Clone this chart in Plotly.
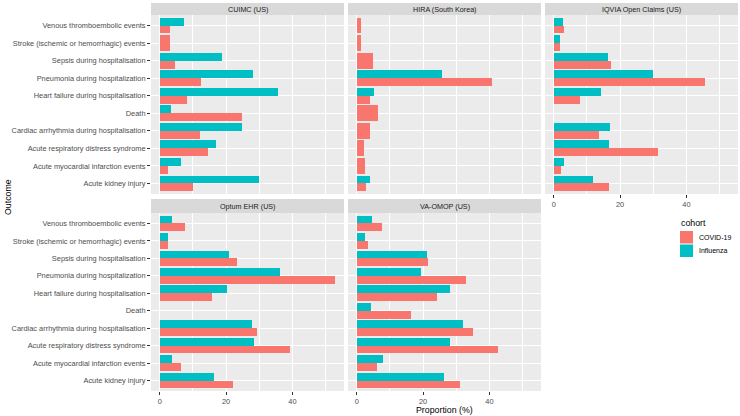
import plotly.graph_objects as go

W, H = 740, 416

categories = [
    "Acute kidney injury",
    "Acute myocardial infarction events",
    "Acute respiratory distress syndrome",
    "Cardiac arrhythmia during hospitalisation",
    "Death",
    "Heart failure during hospitalisation",
    "Pneumonia during hospitalization",
    "Sepsis during hospitalisation",
    "Stroke (ischemic or hemorrhagic) events",
    "Venous thromboembolic events",
]

panels = ["CUIMC (US)", "HIRA (South Korea)", "IQVIA Open Claims (US)", "Optum EHR (US)", "VA-OMOP (US)"]

cuimc_covid = [10.0, 2.4, 14.6, 12.2, 24.7, 8.3, 12.4, 4.7, 3.1, 3.1]
cuimc_flu = [29.9, 6.3, 17.0, 24.7, 3.4, 35.6, 28.1, 18.9, None, 7.3]
hira_covid = [2.8, 2.6, 2.1, 4.0, 6.4, 4.0, 40.8, 4.9, 1.3, 1.3]
hira_flu = [4.0, None, None, None, None, 5.2, 25.6, None, None, None]
iqvia_covid = [16.6, 2.3, 31.4, 13.5, None, 7.9, 45.5, 17.2, 1.9, 3.2]
iqvia_flu = [11.7, 3.2, 16.8, 17.0, None, 14.1, 29.9, 16.3, 1.9, 2.8]
optum_covid = [22.0, 6.3, 39.4, 29.3, None, 15.6, 52.9, 23.3, 2.4, 7.5]
optum_flu = [16.2, 3.8, 28.4, 27.9, None, 20.2, 36.2, 20.8, 2.4, 3.8]
va_covid = [31.1, 6.0, 42.6, 35.1, 16.3, 24.3, 32.8, 21.5, 3.4, 7.7]
va_flu = [26.2, 7.8, 28.2, 32.0, 4.2, 28.2, 19.5, 21.3, 2.4, 4.6]

x_ticks = [0, 20, 40]
cohorts = ["COVID-19", "Influenza"]
colors = {"COVID-19": "#F8766D", "Influenza": "#00BFC4"}

panel_data = [
    (cuimc_covid, cuimc_flu),
    (hira_covid, hira_flu),
    (iqvia_covid, iqvia_flu),
    (optum_covid, optum_flu),
    (va_covid, va_flu),
]

# pixel geometry of panels in screen coords (y from top)
cols_px = [(151, 344), (348, 541), (545, 738)]
rows_px = [(15, 194), (213, 391)]
strip_px = [(3, 15), (199, 213)]
pos = [(0, 0), (0, 1), (0, 2), (1, 0), (1, 1)]

allvals = [v for pair in panel_data for s in pair for v in s if v is not None]
vmax = max(allvals)
xr = [-0.05 * vmax, 1.05 * vmax]

FONT = "Liberation Sans, Arial, sans-serif"
TICK = 7.4
fig = go.Figure()
shapes = []
annotations = []
layout = {}

for i, (name, (cv, fl)) in enumerate(zip(panels, panel_data)):
    r, c = pos[i]
    idx = "" if i == 0 else str(i + 1)
    xa, ya = "x" + idx, "y" + idx
    for cohort, vals, other in (("COVID-19", cv, fl), ("Influenza", fl, cv)):
        ys, xs, offs, wids = [], [], [], []
        for cat, v, o in zip(categories, vals, other):
            if v is None:
                continue
            ys.append(cat)
            xs.append(v)
            if o is None:
                offs.append(-0.45); wids.append(0.9)
            else:
                offs.append(-0.45 if cohort == "COVID-19" else 0.0); wids.append(0.45)
        fig.add_trace(go.Bar(
            x=xs, y=ys, orientation="h", offset=offs, width=wids,
            marker=dict(color=colors[cohort], line=dict(width=0)),
            name=cohort, showlegend=False, xaxis=xa, yaxis=ya,
        ))
    x0, x1 = cols_px[c]
    y0, y1 = rows_px[r]
    show_x = (r == 1) or (c == 2)
    show_y = (c == 0)
    layout["xaxis" + idx] = dict(
        domain=[x0 / W, x1 / W], anchor=ya, range=xr,
        tickvals=x_ticks, showticklabels=show_x,
        ticks="outside" if show_x else "", ticklen=3, tickcolor="#333333",
        tickfont=dict(size=TICK, color="#4D4D4D", family=FONT),
        showgrid=True, gridcolor="white", gridwidth=1.1, zeroline=False,
        minor=dict(dtick=10, tick0=0, showgrid=True, gridcolor="white", gridwidth=0.5),
        showline=False, fixedrange=True,
    )
    layout["yaxis" + idx] = dict(
        domain=[1 - y1 / H, 1 - y0 / H], anchor=xa, type="category",
        categoryorder="array", categoryarray=categories, range=[-0.6, 9.6],
        showticklabels=show_y, ticks="outside" if show_y else "", ticklen=3,
        tickcolor="#333333", tickfont=dict(size=TICK, color="#4D4D4D", family=FONT),
        showgrid=True, gridcolor="white", gridwidth=1.1, zeroline=False,
        showline=False, fixedrange=True,
    )
    shapes.append(dict(type="rect", xref="paper", yref="paper",
                       x0=x0 / W, x1=x1 / W, y0=1 - y1 / H, y1=1 - y0 / H,
                       fillcolor="#EBEBEB", line=dict(width=0), layer="below"))
    s0, s1 = strip_px[r]
    shapes.append(dict(type="rect", xref="paper", yref="paper",
                       x0=x0 / W, x1=x1 / W, y0=1 - s1 / H, y1=1 - s0 / H,
                       fillcolor="#D9D9D9", line=dict(width=0)))
    annotations.append(dict(text=name, xref="paper", yref="paper",
                            x=(x0 + x1) / 2 / W, y=1 - (s0 + s1) / 2 / H,
                            showarrow=False, xanchor="center", yanchor="middle",
                            font=dict(size=7.2, color="#1A1A1A", family=FONT)))

# axis titles
annotations.append(dict(text="Proportion (%)", xref="paper", yref="paper",
                        x=(151 + 738) / 2 / W, y=1 - 410 / H, showarrow=False,
                        xanchor="center", yanchor="middle",
                        font=dict(size=8.8, color="black", family=FONT)))
annotations.append(dict(text="Outcome", xref="paper", yref="paper",
                        x=8 / W, y=1 - 197 / H, showarrow=False, textangle=-90,
                        xanchor="center", yanchor="middle",
                        font=dict(size=8.8, color="black", family=FONT)))

# legend
annotations.append(dict(text="cohort", xref="paper", yref="paper",
                        x=679 / W, y=1 - 223 / H, showarrow=False,
                        xanchor="left", yanchor="middle",
                        font=dict(size=8.8, color="black", family=FONT)))
for k, cohort in enumerate(cohorts):
    ky0 = 231 + k * 13.5
    shapes.append(dict(type="rect", xref="paper", yref="paper",
                       x0=680 / W, x1=693 / W, y0=1 - (ky0 + 12.5) / H, y1=1 - ky0 / H,
                       fillcolor=colors[cohort], line=dict(width=0)))
    annotations.append(dict(text=cohort, xref="paper", yref="paper",
                            x=697 / W, y=1 - (ky0 + 6.25) / H, showarrow=False,
                            xanchor="left", yanchor="middle",
                            font=dict(size=7.0, color="black", family=FONT)))

fig.update_layout(
    width=W, height=H, margin=dict(l=0, r=0, t=0, b=0),
    paper_bgcolor="white", plot_bgcolor="rgba(0,0,0,0)",
    barmode="overlay", bargap=0, showlegend=False,
    shapes=shapes, annotations=annotations,
    font=dict(family=FONT), **layout,
)

fig.write_html("out.html", config={"displayModeBar": False},
               post_script="document.body.style.margin='0px';document.body.style.overflow='hidden';")
